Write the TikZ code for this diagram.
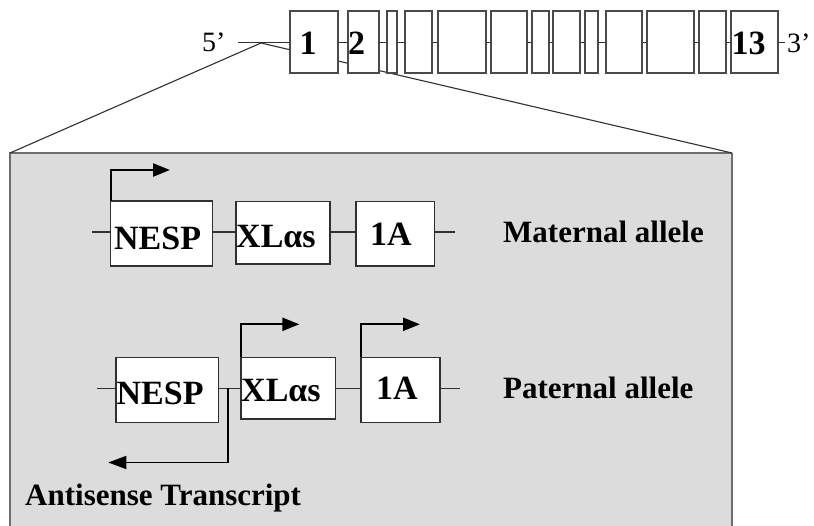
\documentclass[tikz,border=0pt]{standalone}
\usepackage{fontspec}
\setmainfont{Liberation Serif}
\usetikzlibrary{arrows.meta}
\definecolor{panelgray}{HTML}{DCDCDC}
\definecolor{paneledge}{HTML}{6E6E6E}
\definecolor{boxline}{HTML}{303030}
\definecolor{exonline}{HTML}{4A4A4A}

\begin{document}
\begin{tikzpicture}[x=1pt,y=-1pt,
  exon/.style={draw=exonline, line width=1.2pt, fill=white, inner sep=0pt,
               outer sep=0pt, minimum height=62pt, anchor=north west},
  genebox/.style={draw=boxline, line width=1.4pt, fill=white, inner sep=0pt,
                  outer sep=0pt, anchor=north west},
  exnum/.style={font=\fontsize{34}{40}\selectfont\bfseries, inner sep=0pt, anchor=base west},
  boxtxt/.style={font=\fontsize{34}{40}\selectfont\bfseries, inner sep=0pt},
  endtxt/.style={font=\fontsize{28}{32}\selectfont, inner sep=0pt, anchor=base west},
  lbl/.style={font=\fontsize{31}{36}\selectfont\bfseries, inner sep=0pt, anchor=base west},
  strand/.style={draw=boxline, line width=1.1pt},
  promoter/.style={draw=black, line width=2.4pt,
                   -{Triangle[length=17pt,width=13pt]}},
  antisense/.style={draw=black, line width=1.8pt,
                    -{Triangle[length=18pt,width=13pt]}}
]
\useasboundingbox (0,0) rectangle (814,526);

% shaded panel holding the enlarged region
\node[fill=panelgray, draw=none, inner sep=0pt, outer sep=0pt, anchor=north west,
      minimum width=722pt, minimum height=390pt] (panel) at (10,153) {};
\draw[paneledge, line width=1.3pt] (panel.south west) -- (panel.north west) -- (panel.north east);
\draw[paneledge, line width=2.4pt] (panel.north east) -- (panel.south east);

% zoom lines from the 5' end of the gene to the panel
\coordinate (split) at (261,43);
\draw[boxline, line width=1.1pt] (split) -- (panel.north west);
\draw[boxline, line width=1.1pt] (split) -- (panel.north east);

% gene backbone
\coordinate (g5) at (238,43);
\coordinate (g3) at (785,43);
\draw[strand, line width=1pt] (g5) -- (g3);

% exons 1 to 13
\node[exon, minimum width=48pt] (e1)  at (290,11) {};
\node[exon, minimum width=31pt] (e2)  at (348,11) {};
\node[exon, minimum width=10pt] (e3)  at (387,11) {};
\node[exon, minimum width=27pt] (e4)  at (405,11) {};
\node[exon, minimum width=48pt] (e5)  at (438,11) {};
\node[exon, minimum width=36pt] (e6)  at (491,11) {};
\node[exon, minimum width=17pt] (e7)  at (532,11) {};
\node[exon, minimum width=27pt] (e8)  at (553,11) {};
\node[exon, minimum width=13pt] (e9)  at (585,11) {};
\node[exon, minimum width=36pt] (e10) at (606,11) {};
\node[exon, minimum width=47pt] (e11) at (647,11) {};
\node[exon, minimum width=27pt] (e12) at (699,11) {};
\node[exon, minimum width=47pt] (e13) at (731,11) {};

\node[exnum] (n1)  at (299.5,54.3) {1};
\node[exnum] (n2)  at (347.8,54.3) {2};
\node[exnum] (n13) at (731.5,54.8) {13};
\node[endtxt] (five)  at (202,51.5) {5’};
\node[endtxt] (three) at (787,53) {3’};

% ---- maternal allele ----
\coordinate (mL) at (92,232);
\coordinate (mR) at (455,232);
\draw[strand] (mL) -- (mR);
\node[genebox, minimum width=102pt, minimum height=65pt] (mNESP) at (110.7,201) {};
\node[genebox, minimum width=94pt,  minimum height=62.3pt] (mXL) at (236,201.7) {};
\node[genebox, minimum width=78.3pt, minimum height=64.3pt] (m1A) at (356,201.7) {};
\node[boxtxt, anchor=base west] (tmNESP) at (114,250) {NESP};
\node[boxtxt, anchor=base west] (tmXL)   at (236,247.3) {XLαs};
\node[boxtxt, anchor=base]      (tm1A)   at (391,246) {1A};
\node[lbl] (mat) at (503,242.3) {Maternal allele};
\coordinate (mtip) at (170,170);
\draw[promoter] (mNESP.north west) |- (mtip);

% ---- paternal allele ----
\coordinate (pL) at (97,388.3);
\coordinate (pR) at (460,388.3);
\draw[strand] (pL) -- (pR);
\node[genebox, minimum width=102.3pt, minimum height=65pt] (pNESP) at (116,357.3) {};
\node[genebox, minimum width=94.7pt,  minimum height=61.7pt] (pXL)  at (241,357.3) {};
\node[genebox, minimum width=79pt,    minimum height=65pt] (p1A)   at (361,357.3) {};
\node[boxtxt, anchor=base west] (tpNESP) at (116.5,405) {NESP};
\node[boxtxt, anchor=base west] (tpXL)   at (241,401.7) {XLαs};
\node[boxtxt, anchor=base]      (tp1A)   at (397,400) {1A};
\node[lbl] (pat) at (503,398.3) {Paternal allele};
\coordinate (xtip) at (299.3,324.3);
\coordinate (atip) at (420,324.3);
\draw[promoter] (pXL.north west) |- (xtip);
\draw[promoter] (p1A.north west) |- (atip);

% antisense transcript starting between NESP and XLas
\coordinate (asStart) at (228.3,388.3);
\coordinate (asTip) at (108.3,462.5);
\draw[antisense] (asStart) |- (asTip);
\node[lbl] (anti) at (25,505) {Antisense Transcript};
\end{tikzpicture}
\end{document}
